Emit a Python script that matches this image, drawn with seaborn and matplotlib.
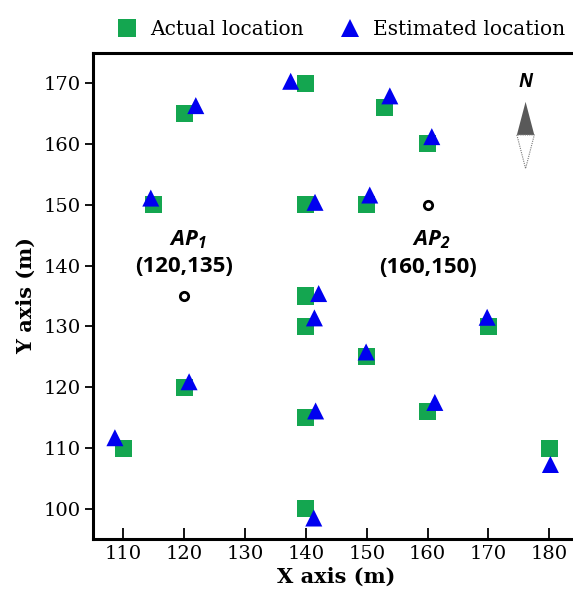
import numpy as np
import pandas as pd
import matplotlib
matplotlib.use("Agg")
import matplotlib.pyplot as plt
import seaborn as sns

# ---- data ----
actual_x = [140, 120, 153, 160, 115, 140, 150, 140, 140, 120, 110, 140, 140, 150, 170, 160, 180]
actual_y = [170, 165, 166, 160, 150, 150, 150, 135, 130, 120, 110, 115, 100, 125, 130, 116, 110]
est_x = [137.5, 121.9, 153.8, 160.7, 114.5, 141.5, 150.5, 142.1, 141.4, 120.8, 108.6, 141.6, 141.3, 149.9, 169.8, 161.2, 180.2]
est_y = [170.3, 166.3, 167.9, 161.2, 151.1, 150.4, 151.6, 135.4, 131.4, 120.9, 111.7, 116.1, 98.5, 125.8, 131.5, 117.5, 107.3]
ap_x = [120, 160]
ap_y = [135, 150]
ap_names = ["$AP_1$", "$AP_2$"]
ap_coords = ["(120,135)", "(160,150)"]
ap_name_y = [144.2, 144.3]
ap_coord_y = [139.8, 139.7]
x_ticks = [110, 120, 130, 140, 150, 160, 170, 180]
y_ticks = [100, 110, 120, 130, 140, 150, 160, 170]
labels = ["Actual location", "Estimated location"]

df = pd.DataFrame({
    "x": actual_x + est_x,
    "y": actual_y + est_y,
    "kind": [labels[0]] * len(actual_x) + [labels[1]] * len(est_x),
})

sns.set_style("white")
plt.rcParams["font.family"] = ["DejaVu Serif"]
plt.rcParams["mathtext.fontset"] = "custom"
plt.rcParams["mathtext.it"] = "Open Sans:italic:bold"
plt.rcParams["mathtext.rm"] = "Open Sans:italic:bold"
plt.rcParams["mathtext.bf"] = "Open Sans:italic:bold"
for k in ["text.color", "axes.labelcolor", "xtick.color", "ytick.color"]:
    plt.rcParams[k] = "black"

fig = plt.figure(figsize=(5.73, 5.99), dpi=100)
ax = fig.add_axes([93 / 573, 1 - 539.3 / 599, 486.6 / 573, 486.6 / 599])

green = "#14a650"
blue = "#0000f0"
sns.scatterplot(data=df, x="x", y="y", hue="kind", style="kind",
                palette={labels[0]: green, labels[1]: blue},
                markers={labels[0]: "s", labels[1]: "^"},
                s=150, linewidth=0, ax=ax, zorder=3)

# access points
ax.scatter(ap_x, ap_y, s=36, facecolor="white", edgecolor="black", linewidth=2.0, zorder=4)
for xx, ny, cy, nm, cc in zip(ap_x, ap_name_y, ap_coord_y, ap_names, ap_coords):
    ax.text(xx + 0.6, ny, nm, ha="center", va="center", fontsize=16, zorder=5)
    ax.text(xx, cy, cc, ha="center", va="center", fontsize=16,
            family="Open Sans", weight="bold", zorder=5)

# north arrow (axes coords)
cx, hw = 0.889, 0.0179
ax.fill([cx, cx - hw, cx + hw], [0.899, 0.831, 0.831], color="#595959",
        transform=ax.transAxes, lw=0, zorder=5)
ax.plot([cx - hw, cx, cx + hw, cx - hw], [0.831, 0.762, 0.831, 0.831], color="#777777",
        ls=(0, (1, 1)), lw=0.8, transform=ax.transAxes, zorder=5)
ax.text(cx, 0.94, "N", transform=ax.transAxes, ha="center", va="center",
        fontsize=13.5, family="Open Sans", weight="bold", style="italic")

ax.set_xlim(105, 185)
ax.set_ylim(95, 175)
ax.set_xticks(x_ticks)
ax.set_yticks(y_ticks)
ax.tick_params(axis="x", direction="in", length=8, width=1.3, pad=4, labelsize=14, bottom=True)
ax.tick_params(axis="y", direction="out", length=6, width=1.3, pad=2.5, labelsize=14, left=True)
for sp in ax.spines.values():
    sp.set_linewidth(2.2)
    sp.set_color("black")
ax.spines["right"].set_visible(False)

ax.set_xlabel("X axis (m)", fontsize=15, fontweight="bold", labelpad=3)
ax.set_ylabel("Y axis (m)", fontsize=15, fontweight="bold", labelpad=6)

ax.legend(loc="lower center", bbox_to_anchor=(0.5, 1.0), ncol=2, frameon=False,
          fontsize=14.5, handletextpad=0.15, columnspacing=1.3, markerscale=1.0,
          borderaxespad=0.3, labelcolor="black")

fig.savefig("out.png", dpi=100)
